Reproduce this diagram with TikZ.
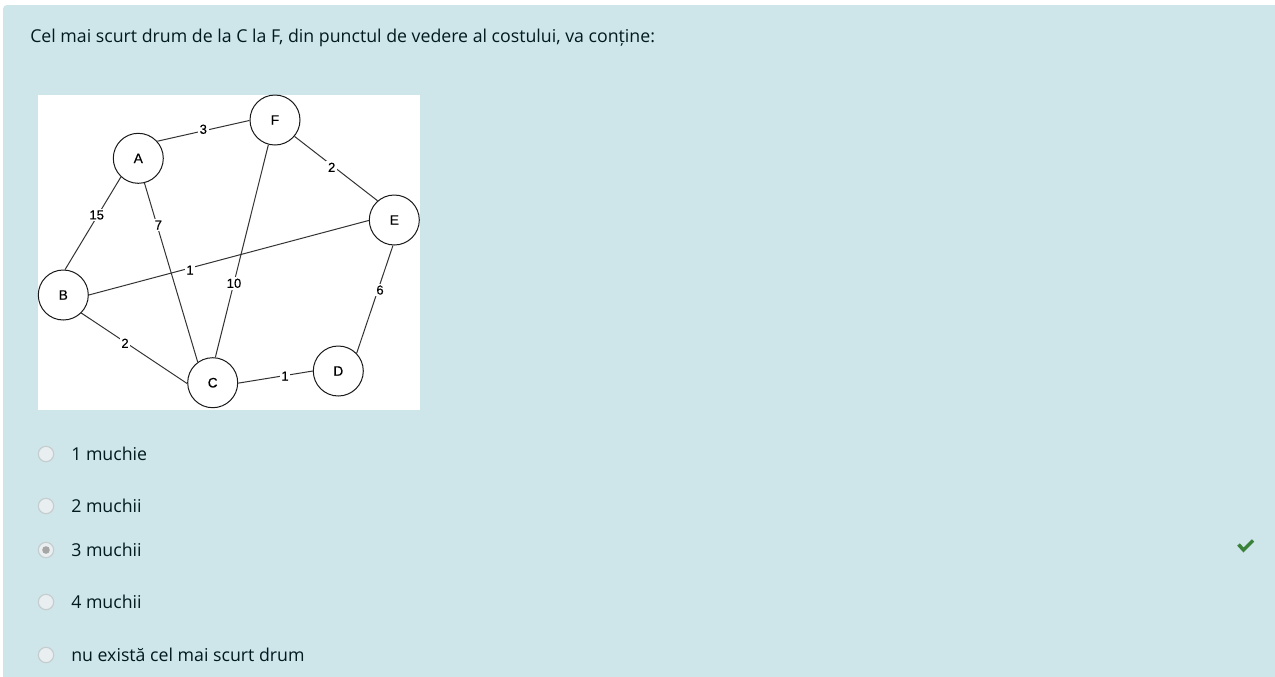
\documentclass[tikz,border=0pt]{standalone}
\usepackage{fontspec}
\setmainfont{Open Sans}
\newfontfamily\graphfont[FakeBold=0.3]{Liberation Sans}
\definecolor{panel}{RGB}{206,229,234}
\definecolor{qtext}{RGB}{0,26,30}
\definecolor{radiofill}{RGB}{233,238,240}
\definecolor{radioedge}{RGB}{196,204,206}
\definecolor{okgreen}{RGB}{58,130,58}
\tikzset{
  qtxt/.style={anchor=base west, text=qtext, inner sep=0pt, font=\fontsize{13.3pt}{15pt}\selectfont},
  gnode/.style={circle, draw=black!90, fill=white, line width=0.75pt, minimum size=37.5pt, inner sep=0pt, font=\graphfont\fontsize{10.3pt}{11pt}\selectfont},
  gedge/.style={draw=black!80, line width=0.75pt},
  elabel/.style={fill=white, inner sep=1.2pt, font=\graphfont\fontsize{9.8pt}{10pt}\selectfont},
  radio/.style={circle, draw=radioedge, fill=radiofill, line width=0.8pt, minimum size=11.5pt, inner sep=0pt},
}
\begin{document}
\begin{tikzpicture}[x=0.75pt,y=-0.75pt]
\useasboundingbox (0,0) rectangle (1275,676);
\fill[white] (0,0) rectangle (1275,676);
\fill[panel, rounded corners=3pt] (3,5) rectangle (1285,690);
% question
\node[qtxt] (q) at (30,42) {Cel mai scurt drum de la C la F, din punctul de vedere al costului, va conține:};
% graph image
\fill[white] (38,95) rectangle (420,410);
\node[gnode] (F) at (275,120) {F};
\node[gnode] (A) at (138.3,158.3) {A};
\node[gnode] (E) at (394.3,220) {E};
\node[gnode] (B) at (63.3,295) {B};
\node[gnode] (C) at (212.7,382.7) {C};
\node[gnode] (D) at (338.3,371) {D};
\draw[gedge] (A.42) -- (F.181);
\draw[gedge] (F.-40) -- (E.131);
\draw[gedge] (A.227) -- (B.86);
\draw[gedge] (A.-76) -- (C.126);
\draw[gedge] (B.0) -- (E.181);
\draw[gedge] (F.255) -- (C.84);
\draw[gedge] (E.267) -- (D.44);
\draw[gedge] (B.-45) -- (C.182);
\draw[gedge] (C.-1.5) -- (D.180);
\node[elabel] (lAF) at (203.3,129.3) {3};
\node[elabel] (lFE) at (331.7,167.3) {2};
\node[elabel] (lAB) at (96.7,215) {15};
\node[elabel] (lAC) at (158.3,225) {7};
\node[elabel] (lBE) at (190,270) {1};
\node[elabel] (lFC) at (234,283.3) {10};
\node[elabel] (lED) at (380,290) {6};
\node[elabel] (lBC) at (125,343.3) {2};
\node[elabel] (lCD) at (285,376) {1};
% answers
\node[radio] (r1) at (46,454) {};
\node[radio] (r2) at (46,506) {};
\node[radio] (r3) at (46,550) {};
\node[radio] (r4) at (46,602) {};
\node[radio] (r5) at (46,655) {};
\fill[black!35] (r3.center) circle (3.8);
\node[qtxt] (a1) at (71,460) {1 muchie};
\node[qtxt] (a2) at (71,512) {2 muchii};
\node[qtxt] (a3) at (71,556) {3 muchii};
\node[qtxt] (a4) at (71,608) {4 muchii};
\node[qtxt] (a5) at (71,661) {nu există cel mai scurt drum};
% check mark
\draw[okgreen, line width=2.6pt, line cap=butt, line join=miter] (1238.5,544.5) -- (1243.5,550) -- (1253,540.5);
\end{tikzpicture}
\end{document}
